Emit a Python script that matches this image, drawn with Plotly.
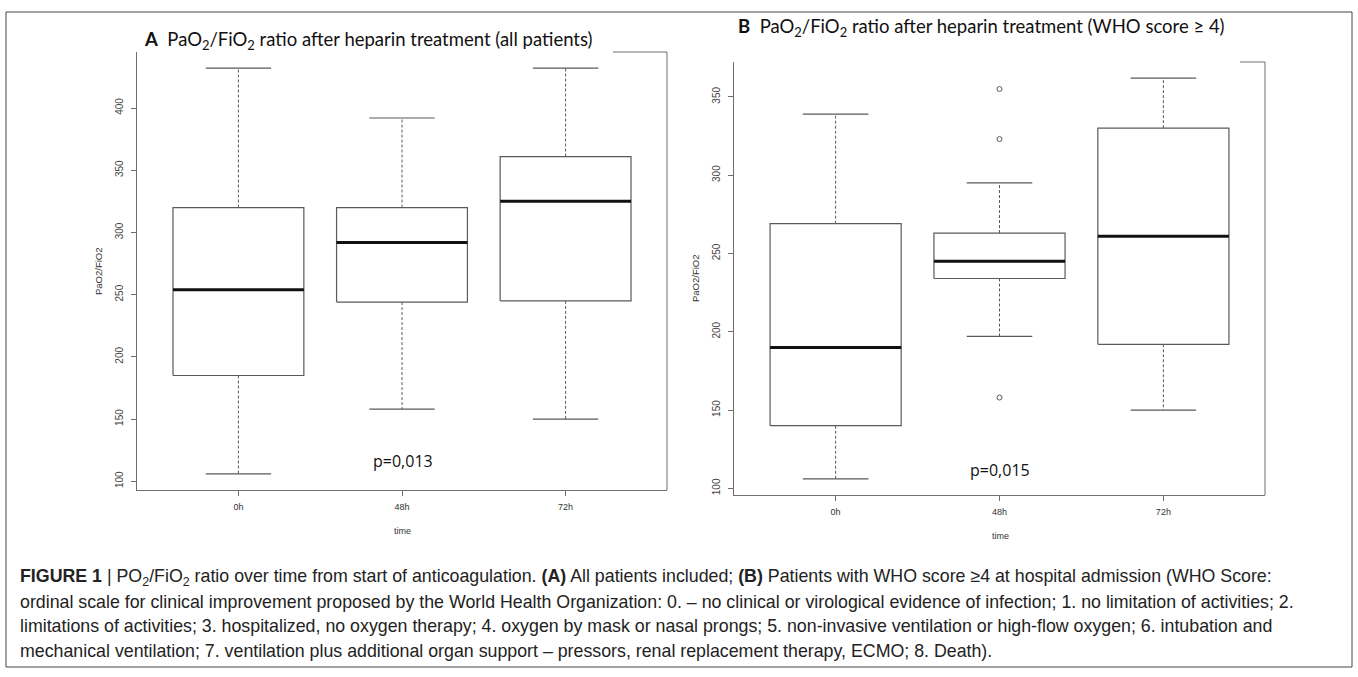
import plotly.graph_objects as go

W, H = 1358, 677

# ---- data -------------------------------------------------------------
categories = ["0h", "48h", "72h"]

# Panel A: all patients (five-number summaries per time point)
a_low = [106, 158, 150]
a_q1 = [185, 244, 245]
a_med = [254, 292, 325]
a_q3 = [320, 320, 361]
a_high = [432, 392, 432]
a_out_pos = []
a_out_val = []

# Panel B: WHO score >= 4
b_low = [106, 197, 150]
b_q1 = [140, 234, 192]
b_med = [190, 245, 261]
b_q3 = [269, 263, 330]
b_high = [339, 295, 362]
b_out_pos = [2, 2, 2]
b_out_val = [355, 323, 158]

a_ticks = [100, 150, 200, 250, 300, 350, 400]
b_ticks = [100, 150, 200, 250, 300, 350]

p_a = "p=0,013"
p_b = "p=0,015"

title_a = "<b>A</b>  PaO<sub>2</sub>/FiO<sub>2</sub> ratio after heparin treatment (all patients)"
title_b = "<b>B</b>  PaO<sub>2</sub>/FiO<sub>2</sub> ratio after heparin treatment (WHO score ≥ 4)"

caption_lines = [
    "<b>FIGURE 1</b> | PO<sub>2</sub>/FiO<sub>2</sub> ratio over time from start of anticoagulation. "
    "<b>(A)</b> All patients included; <b>(B)</b> Patients with WHO score ≥4 at hospital admission (WHO Score:",
    "ordinal scale for clinical improvement proposed by the World Health Organization: 0. – no clinical or "
    "virological evidence of infection; 1. no limitation of activities; 2.",
    "limitations of activities; 3. hospitalized, no oxygen therapy; 4. oxygen by mask or nasal prongs; "
    "5. non-invasive ventilation or high-flow oxygen; 6. intubation and",
    "mechanical ventilation; 7. ventilation plus additional organ support – pressors, renal replacement "
    "therapy, ECMO; 8. Death).",
]

# ---- styling ----------------------------------------------------------
BOX_COL = "#5a5a5a"
AXIS_COL = "#6e6e6e"
TXT_COL = "#333333"
SANS = "Liberation Sans, Arial, sans-serif"
TITLE_FONT = "Lato, Open Sans, sans-serif"
HALF_BOX = 0.4
HALF_CAP = 0.2


def px(x):
    return x / W


def py(y):
    return 1 - y / H


def yrange(*series):
    vals = [v for s in series for v in s]
    lo, hi = min(vals), max(vals)
    pad = 0.04 * (hi - lo)
    return [lo - pad, hi + pad]


fig = go.Figure()


def add_boxes(xa, ya, low, q1, med, q3, high, out_pos, out_val):
    bx, by, mx, my, wx, wy, cx, cy = [], [], [], [], [], [], [], []
    for i in range(len(categories)):
        c = i + 1
        bx += [c - HALF_BOX, c + HALF_BOX, c + HALF_BOX, c - HALF_BOX, c - HALF_BOX, None]
        by += [q1[i], q1[i], q3[i], q3[i], q1[i], None]
        mx += [c - HALF_BOX, c + HALF_BOX, None]
        my += [med[i], med[i], None]
        wx += [c, c, None, c, c, None]
        wy += [q3[i], high[i], None, q1[i], low[i], None]
        cx += [c - HALF_CAP, c + HALF_CAP, None, c - HALF_CAP, c + HALF_CAP, None]
        cy += [high[i], high[i], None, low[i], low[i], None]
    common = dict(xaxis=xa, yaxis=ya, mode="lines", showlegend=False, hoverinfo="skip")
    fig.add_trace(go.Scatter(x=wx, y=wy, line=dict(color=BOX_COL, width=1, dash="3px,2px"), **common))
    fig.add_trace(go.Scatter(x=cx, y=cy, line=dict(color=BOX_COL, width=1.2), **common))
    fig.add_trace(go.Scatter(x=bx, y=by, line=dict(color=BOX_COL, width=1.2), **common))
    fig.add_trace(go.Scatter(x=mx, y=my, line=dict(color="#111111", width=3), **common))
    if out_val:
        fig.add_trace(go.Scatter(
            x=out_pos, y=out_val, xaxis=xa, yaxis=ya, mode="markers", showlegend=False,
            hoverinfo="skip",
            marker=dict(symbol="circle-open", size=5, color=BOX_COL, line=dict(width=1)),
        ))


add_boxes("x", "y", a_low, a_q1, a_med, a_q3, a_high, a_out_pos, a_out_val)
add_boxes("x2", "y2", b_low, b_q1, b_med, b_q3, b_high, b_out_pos, b_out_val)

# plot regions (pixels): left, right, top, bottom
A_REG = (137, 667, 52, 490)
B_REG = (734, 1265, 62, 495)


def axis_pair(reg, ticks, yr):
    l, r, t, b = reg
    xax = dict(
        domain=[px(l), px(r)], range=[1 - 0.62, len(categories) + 0.62],
        tickvals=list(range(1, len(categories) + 1)), ticktext=categories,
        ticks="outside", ticklen=5, tickcolor=AXIS_COL, showline=True, linecolor=AXIS_COL,
        linewidth=1, showgrid=False, zeroline=False, ticklabelstandoff=3,
        tickfont=dict(family=SANS, size=9, color=TXT_COL), fixedrange=True,
    )
    yax = dict(
        domain=[py(b), py(t)], range=yr, tickvals=ticks, tickangle=-90,
        ticks="outside", ticklen=5, tickcolor=AXIS_COL, showline=True, linecolor=AXIS_COL,
        linewidth=1, showgrid=False, zeroline=False, ticklabelstandoff=4,
        tickfont=dict(family=SANS, size=10, color="#444444"),
        fixedrange=True,
    )
    return xax, yax


xa, ya = axis_pair(A_REG, a_ticks, yrange(a_low, a_high, a_out_val))
xb, yb = axis_pair(B_REG, b_ticks, yrange(b_low, b_high, b_out_val))
xa["anchor"], ya["anchor"] = "y", "x"
xb["anchor"], yb["anchor"] = "y2", "x2"

shapes = []


def seg(x0, y0, x1, y1, color=AXIS_COL, width=1):
    shapes.append(dict(type="line", xref="paper", yref="paper",
                       x0=px(x0), y0=py(y0), x1=px(x1), y1=py(y1),
                       line=dict(color=color, width=width)))


# right side of each plot frame with the short top corner
for (l, r, t, b), cut in ((A_REG, 613), (B_REG, 1240)):
    seg(r, t, r, b)
    seg(cut, t, r, t)

# outer figure frame
shapes.append(dict(type="rect", xref="paper", yref="paper",
                   x0=px(6), y0=py(667), x1=px(1352), y1=py(12),
                   line=dict(color="#444444", width=1)))

annotations = []


def text(x, y, s, size, family, color=TXT_COL, angle=0, xanchor="center"):
    annotations.append(dict(x=px(x), y=py(y), xref="paper", yref="paper", text=s,
                            showarrow=False, xanchor=xanchor, yanchor="middle",
                            textangle=angle, font=dict(size=size, family=family, color=color)))


text(368, 40, title_a, 18.5, TITLE_FONT, color="#111111")
text(981, 27, title_b, 18.5, TITLE_FONT, color="#111111")

text(402, 531, "time", 9, SANS)
text(1000, 536, "time", 9, SANS)
text(98, 271, "PaO2/FiO2", 9.5, SANS, angle=-90)
text(695, 278, "PaO2/FiO2", 9.5, SANS, angle=-90)

text(403, 461, p_a, 16, "Open Sans, sans-serif", color="#111111")
text(1000, 470, p_b, 16, "Open Sans, sans-serif", color="#111111")

for i, line in enumerate(caption_lines):
    text(18, 577 + i * 24.5, line, 17.8, SANS, color="#222222", xanchor="left")

fig.update_layout(
    width=W, height=H, margin=dict(l=0, r=0, t=0, b=0),
    paper_bgcolor="white", plot_bgcolor="white",
    xaxis=xa, yaxis=ya, xaxis2=xb, yaxis2=yb,
    shapes=shapes, annotations=annotations, showlegend=False,
)

fig.write_html("out.html", config={"displayModeBar": False})
